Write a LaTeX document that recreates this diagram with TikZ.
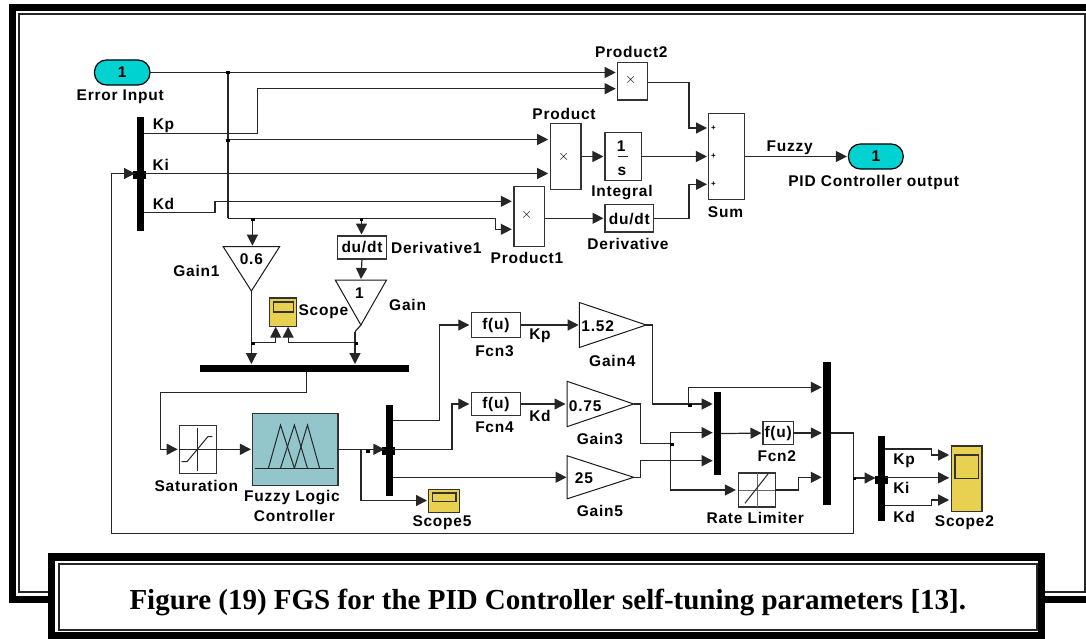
\documentclass[tikz,border=0pt]{standalone}
\usepackage{fontspec}
\usepackage{xcolor}
\usetikzlibrary{arrows.meta,shapes.geometric}
\newfontfamily\lblfont[LetterSpace=5]{Liberation Sans}
\newfontfamily\capfont{Liberation Serif}
\newcommand{\lblsize}{\lblfont\bfseries\fontsize{15.5}{17}\selectfont}
\definecolor{portcyan}{HTML}{00D2D2}
\definecolor{scopeyel}{HTML}{E8D050}
\definecolor{fuzzyteal}{HTML}{93C6CA}
\tikzset{
    blockbox/.style={draw=black!80, line width=1.2pt, fill=white, inner sep=0pt, outer sep=0pt},
    portbox/.style={blockbox, draw=black, fill=portcyan, rounded corners=12pt, font=\lblsize},
    scopebox/.style={blockbox, fill=scopeyel},
    barbox/.style={fill=black, inner sep=0pt, outer sep=0pt},
    stub/.style={barbox, minimum width=13pt, minimum height=8pt},
    gaintri/.style={draw=black!90, line width=1pt, fill=white, isosceles triangle, isosceles triangle stretches, inner sep=0pt, outer sep=0pt},
    lbl/.style={font=\lblsize, inner sep=0pt},
    wire/.style={line width=1.2pt, draw=black!85},
    sig/.style={wire, -{Triangle[length=11pt,width=11pt]}},
    junc/.style={fill=black, inner sep=0pt, minimum size=3.5pt}
}
\begin{document}
\begin{tikzpicture}[x=1pt,y=-1pt]
    \useasboundingbox (0,0) rectangle (1086,639);

    % Outer frame
    \draw[line width=7.4pt] (12.2,7.5) rectangle (1100,599.5);
    \draw[line width=2pt, black!85] (18.5,14.5) rectangle (1085,592);

    % Top row blocks
    \node[portbox, minimum width=55.5pt, minimum height=25pt] (errin) at (122.2,72.5) {1};
    \node[barbox, minimum width=7.2pt, minimum height=113.7pt] (gainbus) at (140.4,174.2) {};
    \node[stub] (gainstub) at (139.5,175.5) {};
    \node[blockbox, minimum width=30pt, minimum height=37.3pt] (prodtwo) at (632.5,81.3) {};
    \node[blockbox, minimum width=30.7pt, minimum height=65.6pt] (prod) at (565.6,156.5) {};
    \node[blockbox, minimum width=30.8pt, minimum height=60pt] (prodone) at (529.3,216.7) {};
    \node[blockbox, minimum width=36.7pt, minimum height=47.6pt] (integ) at (623.3,156.5) {};
    \node[blockbox, minimum width=48.8pt, minimum height=27.3pt] (dudt) at (629.4,218.3) {};
    \node[blockbox, minimum width=36.7pt, minimum height=86pt] (sumblk) at (726.5,156.5) {};
    \node[portbox, minimum width=54.8pt, minimum height=25pt] (pidout) at (875.8,156.5) {1};

    % Left middle blocks
    \node[gaintri, shape border rotate=270, minimum width=56.4pt, minimum height=44.3pt, anchor=apex] (gainone) at (251.4,291) {};
    \node[blockbox, font=\lblsize, minimum width=48.9pt, minimum height=23pt] (dudtone) at (362,247.5) {du/dt};
    \node[gaintri, shape border rotate=270, minimum width=51.3pt, minimum height=45pt, anchor=apex] (gain) at (360.9,325) {};
    \node[scopebox, minimum width=27pt, minimum height=28.7pt] (scope) at (283.3,312.3) {};
    \node[scopebox, minimum width=20pt, minimum height=10pt] (scopein) at (283.3,307) {};
    \node[barbox, minimum width=208.4pt, minimum height=7pt] (sumbus) at (304.4,368.8) {};

    % Fuzzy part
    \node[blockbox, minimum width=37.4pt, minimum height=47.6pt] (sat) at (198.1,449.3) {};
    \node[blockbox, fill=fuzzyteal, minimum width=85.5pt, minimum height=72pt] (flc) at (295.2,449.3) {};
    \node[barbox, minimum width=7pt, minimum height=90.7pt] (flcbus) at (389.5,450.3) {};
    \node[stub] (flcstub) at (388.8,451.3) {};
    \node[scopebox, minimum width=30.8pt, minimum height=23pt] (scopefive) at (444.1,501.2) {};
    \node[scopebox, minimum width=23.8pt, minimum height=8.7pt] (scopefivein) at (444.1,497.3) {};

    \node[blockbox, font=\lblsize, minimum width=49.2pt, minimum height=25pt] (fcnthree) at (495.9,325) {f(u)};
    \node[blockbox, font=\lblsize, minimum width=49.2pt, minimum height=22.7pt] (fcnfour) at (495.9,404) {f(u)};
    \node[gaintri, minimum height=66.8pt, minimum width=45pt, anchor=apex] (gainfour) at (646.2,325) {};
    \node[gaintri, minimum height=66.5pt, minimum width=45.3pt, anchor=apex] (gainthree) at (633.7,404) {};
    \node[gaintri, minimum height=66.5pt, minimum width=43pt, anchor=apex] (gainfive) at (633.7,477.3) {};

    % Right blocks
    \node[barbox, minimum width=6.6pt, minimum height=82.7pt] (midbus) at (717.7,433.6) {};
    \node[blockbox, font=\lblsize, minimum width=30.4pt, minimum height=22.4pt] (fcntwo) at (778.2,433) {f(u)};
    \node[blockbox, minimum width=36.7pt, minimum height=34pt] (rate) at (757,490) {};
    \node[barbox, minimum width=7.5pt, minimum height=142.7pt] (outbus) at (827.2,433.4) {};
    \node[barbox, minimum width=7.2pt, minimum height=84.4pt] (kbus) at (881.5,478.5) {};
    \node[stub] (kstub) at (881.2,479.6) {};
    \node[scopebox, minimum width=30.5pt, minimum height=65.3pt] (scopetwo) at (966.8,478.7) {};
    \node[scopebox, minimum width=23.6pt, minimum height=23.7pt] (scopetwoin) at (966.8,466.8) {};

    % Block inner marks
    \foreach \pt/\mx/\my in {tmtwo/630.6/80, tmone/526.7/215.3, tm/563.8/156.5} {
        \node[inner sep=0pt, font=\fontsize{14}{14}\selectfont] (\pt) at (\mx,\my) {$\times$};
    }
    \foreach \pt/\my in {pla/128, plb/156.5, plc/184.3} {
        \node[inner sep=0pt, font=\lblfont\bfseries\fontsize{8}{8}\selectfont] (\pt) at (713.4,\my) {+};
    }
    \node[lbl] (intnum) at (621.3,146) {1};
    \node[lbl] (intden) at (622,171) {s};
    \draw[wire] (617.5,156.5) -- (627.8,156.5);
    \node[lbl] (dudttxt) at (629.4,219) {du/dt};

    % Saturation icon
    \draw[wire, line width=1pt] (197,427.7) -- (197,470.7);
    \draw[wire, line width=1pt] (sat.west) -- (sat.east);
    \draw[wire, line width=1pt] (181.5,461.7) -- (187,461.7) -- (207.8,436.7) -- (212.3,436.7);

    % Fuzzy icon
    \draw[wire, line width=1pt] (254.9,468.3) -- (333.8,468.3);
    \foreach \lf/\mf/\rf in {268.4/280.5/294.4, 280.5/294.4/307.5, 294.4/307.5/319.6} {
        \draw[wire, line width=1pt] (\lf,468.3) -- (\mf,425) -- (\rf,468.3);
    }

    % Rate limiter icon
    \draw[wire, line width=1pt, black!60] (rate.west) -- (rate.east);
    \draw[wire, line width=1pt, black!60] (rate.north) -- (rate.south);
    \draw[wire, line width=1pt] (744.9,503.3) -- (768,474);

    % Define points
    \coordinate (ptwoa) at (615.7,72.5);
    \coordinate (ptwob) at (615.7,88.7);
    \coordinate (pa) at (548.2,139.5);
    \coordinate (pb) at (548.2,173.5);
    \coordinate (ponea) at (511.8,201.3);
    \coordinate (poneb) at (511.8,229.3);
    \coordinate (erra) at (228,72.5);
    \coordinate (errb) at (228,139.5);
    \coordinate (errc) at (228,218.3);
    \coordinate (errd) at (252.4,218.3);
    \coordinate (erre) at (361.5,218.3);
    \coordinate (kpo) at (144,133.7);
    \coordinate (kpv) at (257.6,88.7);
    \coordinate (kio) at (144,173.5);
    \coordinate (kdo) at (144,212.7);
    \coordinate (kdv) at (215,201.3);
    \coordinate (pbr) at (495.2,229.3);
    \coordinate (suma) at (707,128);
    \coordinate (sumc) at (707,184.3);
    \coordinate (ptwoo) at (647.6,82.7);
    \coordinate (sumav) at (689,128);
    \coordinate (sumcv) at (689,184.3);
    \coordinate (gj) at (355,331.7);
    \coordinate (gbus) at (355,364);
    \coordinate (gonebus) at (251.4,364);
    \coordinate (scja) at (251.4,342.5);
    \coordinate (scjb) at (355,342.5);
    \coordinate (sca) at (275.7,326.7);
    \coordinate (scb) at (288.1,326.7);
    \coordinate (sbo) at (306.5,372.3);
    \coordinate (sbv) at (160.3,392.7);
    \coordinate (satin) at (160.3,449.3);
    \coordinate (flcj) at (360.9,449.3);
    \coordinate (flcout) at (384.4,449.3);
    \coordinate (fba) at (393,420.3);
    \coordinate (fbb) at (393,449.3);
    \coordinate (fbc) at (393,477.3);
    \coordinate (fav) at (439.8,325);
    \coordinate (fbv) at (452,404);
    \coordinate (sfa) at (427,500.5);
    \coordinate (midj) at (688.8,404);
    \coordinate (mida) at (712.7,404);
    \coordinate (midb) at (712.7,432.7);
    \coordinate (midc) at (712.7,460.7);
    \coordinate (g3j) at (670.8,443.7);
    \coordinate (rb) at (735.9,490);
    \coordinate (outa) at (821.8,387.3);
    \coordinate (outb) at (821.8,433);
    \coordinate (outc) at (821.8,477.3);
    \coordinate (rv) at (798.6,477.3);
    \coordinate (obo) at (831,433);
    \coordinate (obb) at (853.3,533.7);
    \coordinate (obj) at (853.3,478);
    \coordinate (fbk) at (111.5,533.7);
    \coordinate (fbt) at (111.5,173.5);
    \coordinate (fbi) at (135,173.5);
    \coordinate (kbi) at (875.5,478);
    \coordinate (ka) at (885.1,449);
    \coordinate (kb) at (885.1,477.8);
    \coordinate (kc) at (885.1,505.7);
    \coordinate (kav) at (931.6,455);
    \coordinate (kcv) at (931.6,500);
    \coordinate (sta) at (949.2,455);
    \coordinate (stb) at (949.2,477.8);
    \coordinate (stc) at (949.2,500);

    % Top row signals
    \draw[sig] (errin.east) -- (erra) -- (ptwoa);
    \draw[wire] (erra) -- (errb) -- (errc);
    \draw[sig] (errb) -- (pa);
    \draw[sig] (kpo) -| (kpv) -- (ptwob);
    \draw[sig] (kio) -- (pb);
    \draw[sig] (kdo) -| (kdv) -- (ponea);
    \draw[sig] (errc) -| (pbr) -- (poneb);
    \draw[sig] (ptwoo) -| (sumav) -- (suma);
    \draw[sig, shorten >=1.5pt] (prod.east) -- (integ.west);
    \draw[sig, shorten >=1.2pt] (integ.east) -- (sumblk.west);
    \draw[sig, shorten >=1.5pt] (prodone.east |- dudt.west) -- (dudt.west);
    \draw[sig] (dudt.east) -| (sumcv) -- (sumc);
    \draw[sig, shorten >=1.5pt] (sumblk.east) -- (pidout.west);

    % Gain branches
    \draw[sig, shorten >=1pt] (errd) -- (errd |- gainone.lower side);
    \draw[sig, shorten >=1.5pt] (erre) -- (dudtone.north -| erre);
    \draw[sig, shorten >=1pt] (dudtone.south) -- (gain.lower side);
    \draw[sig] (gainone.apex) -- (gonebus);
    \draw[wire] (gain.apex) -- (gj);
    \draw[sig] (gj) -- (gbus);
    \draw[sig] (scja) -| (sca);
    \draw[sig] (scjb) -| (scb);
    \draw[wire] (sbo) |- (sbv) -- (satin);
    \draw[sig, shorten >=1.7pt] (satin) -- (sat.west);
    \draw[sig, shorten >=1.5pt] (sat.east) -- (flc.west);

    % Fuzzy outputs
    \draw[wire] (flc.east) -- (flcj);
    \draw[sig] (flcj) -- (flcout);
    \draw[sig] (flcj) |- (sfa);
    \draw[sig, shorten >=2pt] (fba) -| (fav) -- (fcnthree.west);
    \draw[sig, shorten >=2pt] (fbb) -| (fbv) -- (fcnfour.west);
    \draw[sig, shorten >=0.7pt] (fbc) -- (gainfive.lower side);
    \draw[sig, shorten >=0.7pt] (fcnthree.east) -- (gainfour.lower side);
    \draw[sig, shorten >=1.7pt] (fcnfour.east) -- (gainthree.lower side);

    % Gains to the buses
    \draw[wire] (gainfour.apex) -- ++(6.6,0) |- (midj);
    \draw[sig] (midj) -- (mida);
    \draw[sig] (midj) |- (outa);
    \draw[wire] (gainthree.apex) -- ++(6.7,0) |- (g3j);
    \draw[sig] (gainfive.apex) -- ++(6.7,0) |- (midc);
    \draw[sig] (g3j) |- (midb);
    \draw[sig] (g3j) |- (rb);
    \draw[sig, shorten >=1.5pt] (midbus.east) -- (fcntwo.west);
    \draw[sig] (fcntwo.east) -- (outb);
    \draw[sig] (rate.east) -| (rv) -- (outc);

    % Feedback and output bus
    \draw[wire] (obo) -| (obb) -- (fbk) -- (fbt);
    \draw[sig] (fbt) -- (fbi);
    \draw[sig] (obj) -- (kbi);
    \draw[sig] (ka) -| (kav) -- (sta);
    \draw[sig] (kb) -- (stb);
    \draw[sig] (kc) -| (kcv) -- (stc);

    % Junctions
    \foreach \pt/\mx/\my in {ja/228.2/72.5, jb/228.2/140.5, jc/252.8/219.5, jd/361.5/219.5, je/253/343.5, jf/356.7/343.5, jg/367.8/451.7, jh/690.2/405.7, ji/672.2/444.5, jj/854.7/478.7} {
        \node[junc] (\pt) at (\mx,\my) {};
    }

    % Texts
    \foreach \nm/\lx/\ly/\txt in {
        lerr/120.2/97/Error Input,
        lkp/163.5/126/Kp,
        lki/160.7/165/Ki,
        lkd/163.5/204/Kd,
        lptwo/631.3/52/Product2,
        lp/564/114/Product,
        lpone/527/258/Product1,
        lint/622/193/Integral,
        lder/628/244/Derivative,
        lsum/725.5/212/Sum,
        lfuz/789.6/148/Fuzzy,
        lpid/873.7/182/PID Controller output,
        lgone/196.4/271/Gain1,
        lvone/251.4/259/0.6,
        ldone/436.3/248/Derivative1,
        lvg/359.5/293/1,
        lg/407.6/305/Gain,
        lsc/323.4/312/Scope,
        lsat/196.4/485.7/Saturation,
        lfl/292/497.7/Fuzzy Logic,
        lct/294.4/515.7/Controller,
        lsf/442/523/Scope5,
        lfa/494.5/350.7/Fcn3,
        lfb/494.5/427.7/Fcn4,
        lka/540/336/Kp,
        lkb/540/416/Kd,
        lvf/597.7/326/1.52,
        lgf/612.3/360.7/Gain4,
        lvt/585.2/405.7/0.75,
        lgt/600/439.3/Gain3,
        lvv/583.9/478/25,
        lgv/600/510.7/Gain5,
        lfc/776.8/455.7/Fcn2,
        lrt/755.3/517.7/Rate Limiter,
        lkc/904.2/460.7/Kp,
        lkm/901.4/488.3/Ki,
        lke/904.2/516.7/Kd,
        lst/964.4/522.7/Scope2
    } {
        \node[lbl] (\nm) at (\lx,\ly) {\txt};
    }

    % Caption frame
    \fill[white] (47.8,553.3) rectangle (1045.2,639);
    \draw[line width=7.4pt] (51.6,557) rectangle (1041.6,635.5);
    \draw[line width=2pt, black!85] (59,564.3) rectangle (1036.5,630);
    \node[inner sep=0pt, font=\capfont\bfseries\fontsize{29}{32}\selectfont] (caption) at (547.8,602.7) {Figure (19) FGS for the PID Controller self-tuning parameters [13].};
\end{tikzpicture}
\end{document}
